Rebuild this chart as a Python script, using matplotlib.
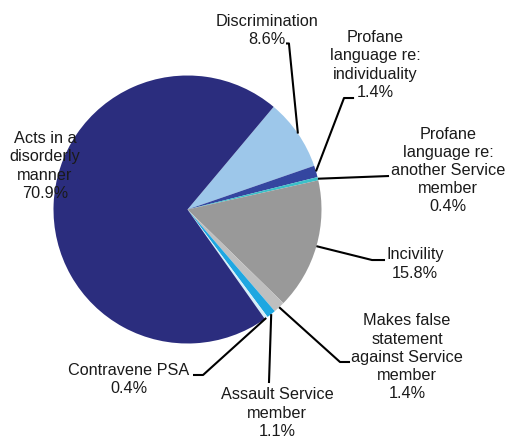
import matplotlib
matplotlib.use("Agg")
import matplotlib.pyplot as plt
import numpy as np

plt.rcParams['font.family'] = ['Liberation Sans', 'DejaVu Sans']

# complaint categories, listed clockwise from the top
label_text = ['Discrimination', 'Profane\nlanguage re:\nindividuality',
              'Profane\nlanguage re:\nanother Service\nmember', 'Incivility',
              'Makes false\nstatement\nagainst Service\nmember',
              'Assault Service\nmember', 'Contravene PSA',
              'Acts in a\ndisorderly\nmanner']
shares = [8.6, 1.4, 0.4, 15.8, 1.4, 1.1, 0.4, 70.9]
colors = ['#9dc7ea', '#3446a0', '#3cc0c8', '#999999', '#bfbfbf',
          '#1ea7e1', '#d6eef9', '#2b2d7e']

# label centre and leader elbow points (None = no leader)
label_pos = [(0.593, 1.336), (1.399, 1.078), (1.944, 0.291), (1.698, -0.407),
             (1.638, -1.104), (0.668, -1.519), (-0.437, -1.269), (-1.063, 0.325)]
leaders = [[(0.735, 1.239), (0.757, 1.239)],
           [(1.243, 0.832), (1.168, 0.832)],
           [(1.504, 0.250)],
           [(1.474, -0.377), (1.377, -0.377)],
           [(1.213, -1.138), (1.138, -1.138)],
           [(0.608, -1.295), (0.608, -1.295)],
           [(0.041, -1.235), (0.116, -1.235)],
           None]

fig = plt.figure(figsize=(5.09, 4.36), dpi=100)
ax = fig.add_axes([53.5 / 509, (436 - 343.5) / 436, 268 / 509, 268 / 436])

wedges, _ = ax.pie(shares, colors=colors, startangle=50, counterclock=False,
                   radius=1.0, wedgeprops=dict(linewidth=0))
ax.set_xlim(-1, 1)
ax.set_ylim(-1, 1)
ax.set_aspect('equal')
ax.axis('off')

for w, txt, val, pos, lead in zip(wedges, label_text, shares, label_pos, leaders):
    if lead is not None:
        mid = np.deg2rad((w.theta1 + w.theta2) / 2)
        pts = lead + [(np.cos(mid), np.sin(mid))]
        xs, ys = zip(*pts)
        ax.plot(xs, ys, color='black', lw=1.5, clip_on=False,
                solid_capstyle='butt', zorder=3)
    ax.text(pos[0], pos[1], f'{txt}\n{val}%', ha='center', va='center',
            fontsize=11.7, linespacing=1.27, color='#1a1a1a', zorder=4)

fig.savefig('out.png', dpi=100)
